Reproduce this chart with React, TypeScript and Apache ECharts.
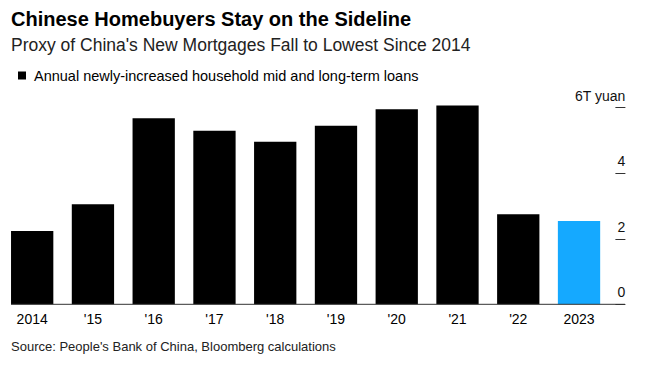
import React, { useEffect, useRef } from "react";
import * as echarts from "echarts";

const categories = ["2014", "'15", "'16", "'17", "'18", "'19", "'20", "'21", "'22", "2023"];
const values = [2.24, 3.05, 5.68, 5.3, 4.96, 5.45, 5.95, 6.07, 2.75, 2.54];
const yTicks = [0, 2, 4, 6];
const seriesName = "Annual newly-increased household mid and long-term loans";
const titleText = "Chinese Homebuyers Stay on the Sideline";
const subtitleText = "Proxy of China's New Mortgages Fall to Lowest Since 2014";
const sourceText = "Source: People's Bank of China, Bloomberg calculations";

const W = 645;
const H = 367;
const FONT = "'Liberation Sans', Arial, sans-serif";
const GRID_LEFT = 1.8;
const GRID_RIGHT = 35.6;
const GRID_TOP = 107.7;
const GRID_BOTTOM = 62.7;
const BASE_Y = H - GRID_BOTTOM;

export default function App() {
  const ref = useRef<HTMLDivElement>(null);
  useEffect(() => {
    document.body.style.margin = "0";
    const chart = echarts.init(ref.current!, null, { renderer: "svg" });
    const lastIdx = values.length - 1;
    chart.setOption({
      animation: false,
      backgroundColor: "#ffffff",
      textStyle: { fontFamily: FONT },
      grid: { left: GRID_LEFT, right: GRID_RIGHT, top: GRID_TOP, bottom: GRID_BOTTOM, containLabel: false },
      legend: {
        show: true,
        left: 13,
        top: 63,
        icon: "rect",
        itemWidth: 8,
        itemHeight: 8,
        itemGap: 10,
        textStyle: { fontSize: 14.5, color: "#000", fontFamily: FONT, padding: [0, 0, 0, 3] },
        data: [seriesName],
      },
      xAxis: {
        type: "category",
        data: categories,
        axisLine: { show: false },
        axisTick: { show: false },
        axisLabel: { color: "#000", fontSize: 14, margin: 8, fontFamily: FONT },
      },
      yAxis: {
        type: "value",
        position: "right",
        min: 0,
        max: 6,
        interval: 2,
        offset: 6,
        splitLine: { show: false },
        axisLine: { show: false },
        axisTick: { show: true, length: 10, lineStyle: { color: "#333", width: 1 } },
        axisLabel: {
          inside: false,
          margin: 10,
          align: "right",
          verticalAlign: "bottom",
          padding: [0, 0, 5, 0],
          color: "#111",
          fontSize: 14,
          fontFamily: FONT,
          formatter: (v: number) => (yTicks.indexOf(v) < 0 ? "" : v === 6 ? "6T yuan" : String(v)),
        },
      },
      series: [
        {
          name: seriesName,
          type: "bar",
          clip: false,
          barWidth: 42.3,
          itemStyle: { color: "#000" },
          data: values.map((v, i) =>
            i === lastIdx ? { value: v, itemStyle: { color: "#15a9ff" } } : v
          ),
        },
      ],
      graphic: [
        {
          type: "text",
          left: 11,
          top: 9,
          style: { text: titleText, font: `bold 20px ${FONT}`, fill: "#000" },
        },
        {
          type: "text",
          left: 11,
          top: 36,
          style: { text: subtitleText, font: `17.5px ${FONT}`, fill: "#222" },
        },
        {
          type: "line",
          shape: { x1: 11, y1: BASE_Y, x2: 625, y2: BASE_Y },
          style: { stroke: "#333", lineWidth: 1 },
          z: 10,
        },
        {
          type: "text",
          left: 11,
          top: 340,
          style: { text: sourceText, font: `13px ${FONT}`, fill: "#222" },
        },
      ],
    });
    return () => chart.dispose();
  }, []);
  return <div ref={ref} style={{ position: "absolute", left: 0, top: 0, width: W, height: H }} />;
}
